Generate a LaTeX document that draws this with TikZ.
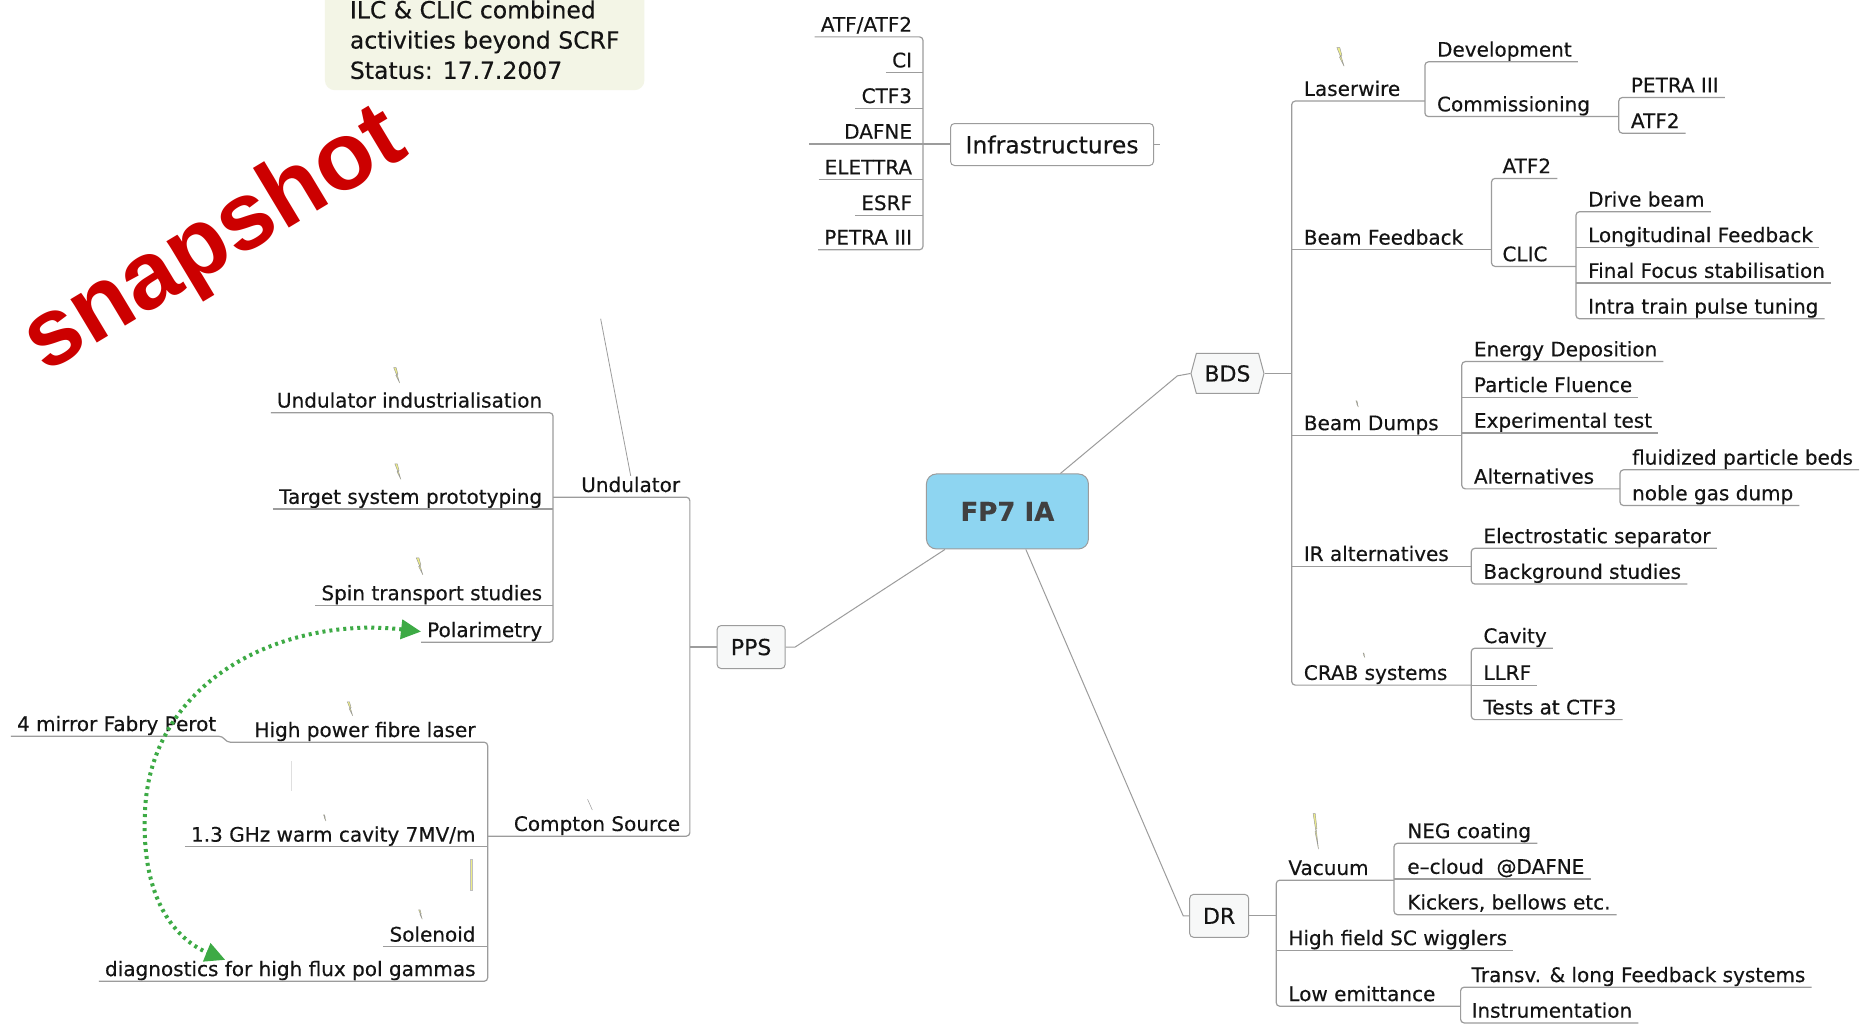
\documentclass[tikz,border=0pt]{standalone}
\usepackage{fontspec}
\setmainfont{DejaVu Sans}[FakeBold=0.35]
\newfontfamily\snapfont{Liberation Sans}
\usetikzlibrary{shapes.symbols,arrows.meta,calc}
\definecolor{linkc}{HTML}{9C9C9C}
\definecolor{txt}{HTML}{141414}
\definecolor{fpfill}{HTML}{8ED5F1}
\definecolor{lvfill}{HTML}{F7F8F8}
\definecolor{notefill}{HTML}{F3F5E6}
\definecolor{snapred}{HTML}{CC0000}
\definecolor{arrowgreen}{HTML}{3DAA45}
\definecolor{boltfill}{HTML}{EEEE88}
\tikzset{
  link/.style={draw=linkc, line width=1.2pt},
  rc/.style={rounded corners=3.5pt},
  tx/.style={font=\fontsize{20}{24}\selectfont, text=txt, inner xsep=6pt, inner ysep=1pt, text height=15pt, text depth=4pt},
  rnode/.style={tx, anchor=south west},
  lnode/.style={tx, anchor=south east},
  lvone/.style={draw=linkc, line width=1pt, fill=lvfill, rounded corners=4pt, font=\fontsize{22}{26}\selectfont, text=txt, inner sep=0pt},
  garrow/.style={draw=arrowgreen, line width=4pt, dash pattern=on 3pt off 4pt, {Triangle[length=20pt,width=19pt]}-{Triangle[length=20pt,width=19pt]}},
  pics/bolt/.style={code={\draw[draw=gray!80, fill=boltfill, line width=0.45pt] (0,0) -- (2,0) -- (3.5,5.5) -- (2.8,5.6) -- (5,13) -- (1.8,6.6) -- (2.6,6.5) -- cycle;}}
}
\begin{document}
\begin{tikzpicture}[x=1.1894pt, y=-1.1894pt]
\fill[white] (0,0) rectangle (1568,869);
\useasboundingbox (0,0) rectangle (1568,869);

% bus coordinates (x only matters)
\coordinate (bdsbus) at (1086,0);
\coordinate (lwbus) at (1198,0);
\coordinate (commbus) at (1361,0);
\coordinate (bfbus) at (1254,0);
\coordinate (clicbus) at (1325,0);
\coordinate (bdbus) at (1229,0);
\coordinate (altbus) at (1362,0);
\coordinate (irbus) at (1237,0);
\coordinate (crabbus) at (1237,0);
\coordinate (drbus) at (1073,0);
\coordinate (vacbus) at (1172,0);
\coordinate (lebus) at (1228,0);
\coordinate (infbus) at (776,0);
\coordinate (ppsbus) at (580,0);
\coordinate (undbus) at (465,0);
\coordinate (compbus) at (410,0);
\coordinate (ufree) at (505,268);

% note and watermark
\node[fill=notefill, rounded corners=10pt, align=left, font=\fontsize{23.5}{30.3}\selectfont, text=txt, inner xsep=25pt, inner ysep=11pt, anchor=south west] (note) at (273,76) {ILC \& CLIC combined\\activities beyond SCRF\\Status: 17.7.2007};
\node[font=\snapfont\bfseries\fontsize{96}{96}\selectfont, text=snapred, rotate=31, anchor=base, inner sep=0pt] (snap) at (192,222) {snapshot};

% central and level-one nodes
\node[draw=linkc, line width=1pt, fill=fpfill, rounded corners=10pt, minimum width=162pt, minimum height=75pt, font=\bfseries\fontsize{26}{30}\selectfont, text=black!75] (fp7) at (847,430) {FP7 IA};
\node[draw=linkc, line width=1pt, fill=white, rounded corners=4pt, minimum width=203pt, minimum height=42pt, font=\fontsize{23.5}{28}\selectfont, text=txt, inner sep=0pt] (infra) at (884.5,121.5) {Infrastructures};
\node[lvone, signal, signal to=west and east, signal pointer angle=150, minimum width=73pt, minimum height=40pt, rounded corners=0pt] (bds) at (1032,314) {BDS};
\node[lvone, minimum width=68pt, minimum height=43pt] (pps) at (631.5,544) {PPS};
\node[lvone, minimum width=59pt, minimum height=43pt] (dr) at (1025,770) {DR};

% connectors from center
\draw[link, line width=1pt] ($(fp7.north east)+(-24,0)$) -- ($(bds.west)+(-11,2)$) -- (bds.west);
\draw[link, line width=1pt] ($(fp7.south west)+(16,0)$) -- ($(pps.east)+(8,0)$) -- (pps.east);
\draw[link, line width=1pt] ($(fp7.south west)+(84,0)$) -- ($(dr.west)+(-5,0)$) -- (dr.west);
\draw[link] (infra.east) -- ++(5,0);

% Infrastructures children
\node[lnode] (atf) at (772,31) {ATF/ATF2};
\node[lnode] (ci) at (772,61) {CI};
\node[lnode] (ctf) at (772,91) {CTF3};
\node[lnode] (dafne) at (772,121) {DAFNE};
\node[lnode] (elettra) at (772,151) {ELETTRA};
\node[lnode] (esrf) at (772,181) {ESRF};
\node[lnode] (petrab) at (772,210) {PETRA III};
\draw[link,rc] (atf.south west) -- (atf.south east -| infbus) -- (petrab.south east -| infbus) -- (petrab.south west);
\draw[link] (ci.south west) -- (ci.south east -| infbus);
\draw[link] (ctf.south west) -- (ctf.south east -| infbus);
\draw[link] ($(dafne.south west)+(-24,0)$) -- (dafne.south west -| infra.west);
\draw[link] (elettra.south west) -- (elettra.south east -| infbus);
\draw[link] (esrf.south west) -- (esrf.south east -| infbus);

% BDS branch
\node[rnode] (lw) at (1091,85) {Laserwire};
\node[rnode] (bf) at (1091,210) {Beam Feedback};
\node[rnode] (bd) at (1091,366) {Beam Dumps};
\node[rnode] (ir) at (1091,476) {IR alternatives};
\node[rnode] (crab) at (1091,576) {CRAB systems};
\draw[link] (bds.east) -- (bds.east -| bdsbus);
\draw[link,rc] (lw.south east -| lwbus) -- (lw.south west -| bdsbus) -- (crab.south west -| bdsbus) -- (crab.south east -| crabbus);
\draw[link] (bf.south west -| bdsbus) -- (bf.south east -| bfbus);
\draw[link] (bd.south west -| bdsbus) -- (bd.south east -| bdbus);
\draw[link] (ir.south west -| bdsbus) -- (ir.south east -| irbus);

\node[rnode] (dev) at (1203,52) {Development};
\node[rnode] (comm) at (1203,98) {Commissioning};
\draw[link,rc] (dev.south east) -- (dev.south west -| lwbus) -- (comm.south west -| lwbus) -- (comm.south east -| commbus);
\node[rnode] (petra) at (1366,82) {PETRA III};
\node[rnode] (atfa) at (1366,112) {ATF2};
\draw[link,rc] (petra.south east) -- (petra.south west -| commbus) -- (atfa.south west -| commbus) -- (atfa.south east);

\node[rnode] (atfb) at (1258,150) {ATF2};
\node[rnode] (clic) at (1258,224) {CLIC};
\draw[link,rc] (atfb.south east) -- (atfb.south west -| bfbus) -- (clic.south west -| bfbus) -- (clic.south east -| clicbus);
\node[rnode] (drive) at (1330,178) {Drive beam};
\node[rnode] (long) at (1330,208) {Longitudinal Feedback};
\node[rnode] (ffs) at (1330,238) {Final Focus stabilisation};
\node[rnode] (itp) at (1330,268) {Intra train pulse tuning};
\draw[link,rc] (drive.south east) -- (drive.south west -| clicbus) -- (itp.south west -| clicbus) -- (itp.south east);
\draw[link] (long.south west -| clicbus) -- (long.south east);
\draw[link] (ffs.south west -| clicbus) -- (ffs.south east);

\node[rnode] (ed) at (1234,304) {Energy Deposition};
\node[rnode] (pf) at (1234,334) {Particle Fluence};
\node[rnode] (et) at (1234,364) {Experimental test};
\node[rnode] (alt) at (1234,411) {Alternatives};
\draw[link,rc] (ed.south east) -- (ed.south west -| bdbus) -- (alt.south west -| bdbus) -- (alt.south east -| altbus);
\draw[link] (pf.south west -| bdbus) -- (pf.south east);
\draw[link] (et.south west -| bdbus) -- (et.south east);
\node[rnode] (fpb) at (1367,395) {fluidized particle beds};
\node[rnode] (ngd) at (1367,425) {noble gas dump};
\draw[link,rc] (fpb.south east) -- (fpb.south west -| altbus) -- (ngd.south west -| altbus) -- (ngd.south east);

\node[rnode] (es) at (1242,461) {Electrostatic separator};
\node[rnode] (bs) at (1242,491) {Background studies};
\draw[link,rc] (es.south east) -- (es.south west -| irbus) -- (bs.south west -| irbus) -- (bs.south east);

\node[rnode] (cav) at (1242,545) {Cavity};
\node[rnode] (llrf) at (1242,576) {LLRF};
\node[rnode] (tc) at (1242,605) {Tests at CTF3};
\draw[link,rc] (cav.south east) -- (cav.south west -| crabbus) -- (tc.south west -| crabbus) -- (tc.south east);
\draw[link] (llrf.south west -| crabbus) -- (llrf.south east);

% DR branch
\node[rnode] (vac) at (1078,740) {Vacuum};
\node[rnode] (hf) at (1078,799) {High field SC wigglers};
\node[rnode] (le) at (1078,846) {Low emittance};
\draw[link] (dr.east) -- (dr.east -| drbus);
\draw[link,rc] (vac.south east -| vacbus) -- (vac.south west -| drbus) -- (le.south west -| drbus) -- (le.south east -| lebus);
\draw[link] (hf.south west -| drbus) -- (hf.south east);
\node[rnode] (neg) at (1178,709) {NEG coating};
\node[rnode] (ec) at (1178,739) {e–cloud\ \ @DAFNE};
\node[rnode] (kb) at (1178,769) {Kickers, bellows etc.};
\draw[link,rc] (neg.south east) -- (neg.south west -| vacbus) -- (kb.south west -| vacbus) -- (kb.south east);
\draw[link] (ec.south west -| vacbus) -- (ec.south east);
\node[rnode] (tl) at (1232,830) {Transv. \& long Feedback systems};
\node[rnode] (inst) at (1232,860) {Instrumentation};
\draw[link,rc] (tl.south east) -- (tl.south west -| lebus) -- (inst.south west -| lebus) -- (inst.south east);

% PPS branch
\node[lnode] (und) at (577,418) {Undulator};
\node[lnode] (comp) at (577,703) {Compton Source};
\draw[link] (pps.west) -- (pps.west -| ppsbus);
\draw[link,rc] (und.south west -| undbus) -- (und.south east -| ppsbus) -- (comp.south east -| ppsbus) -- (comp.south west -| compbus);
\draw[link, line width=0.8pt] (und.north) -- (ufree);

\node[lnode] (ui) at (461,347) {Undulator industrialisation};
\node[lnode] (tsp) at (461,428) {Target system prototyping};
\node[lnode] (sts) at (461,509) {Spin transport studies};
\node[lnode] (pol) at (461,540) {Polarimetry};
\draw[link,rc] (ui.south west) -- (ui.south east -| undbus) -- (pol.south east -| undbus) -- (pol.south west);
\draw[link] (tsp.south west) -- (tsp.south east -| undbus);
\draw[link] (sts.south west) -- (sts.south east -| undbus);

\node[lnode] (hpfl) at (405,624) {High power fibre laser};
\node[lnode] (fm) at (187,619) {4 mirror Fabry Perot};
\node[lnode] (ghz) at (405,712) {1.3 GHz warm cavity 7MV/m};
\node[lnode] (sol) at (405,796) {Solenoid};
\node[lnode] (diag) at (405,825) {diagnostics for high flux pol gammas};
\draw[link,rc] (fm.south west) -- (fm.south east) -- ($(hpfl.south west)+(-18,0)$) -- (hpfl.south east -| compbus) -- (diag.south east -| compbus) -- (diag.south west);
\draw[link] (ghz.south west) -- (ghz.south east -| compbus);
\draw[link] (sol.south west) -- (sol.south east -| compbus);

% green relationship arrow
\draw[garrow] (pol.west) .. controls (240,518) and (128,570) .. (122,680) .. controls (117,770) and (160,795) .. ($(diag.north west)!0.33!(diag.north east)$);

% small note icons
\pic[scale=1.2] at (1124,40) {bolt};
\pic at (331,309) {bolt};
\pic at (332,390) {bolt};
\pic[scale=1.1] at (350,469) {bolt};
\pic[scale=0.9] at (292,590) {bolt};
\pic[xscale=0.9, yscale=2.3] at (1104,684) {bolt};
\pic[scale=0.6] at (352,765) {bolt};
\pic[scale=0.4] at (1140,337) {bolt};
\pic[scale=0.3] at (1146,549) {bolt};
\pic[scale=0.4] at (272,685) {bolt};
\draw[gray!70, line width=0.6pt] (494,672) -- (498,681);
\draw[draw=gray!50, fill=boltfill, line width=0.3pt] (395.3,722) rectangle (396.7,748);
\draw[gray!25, line width=0.5pt] (245,640) -- (245,665);
\end{tikzpicture}
\end{document}
